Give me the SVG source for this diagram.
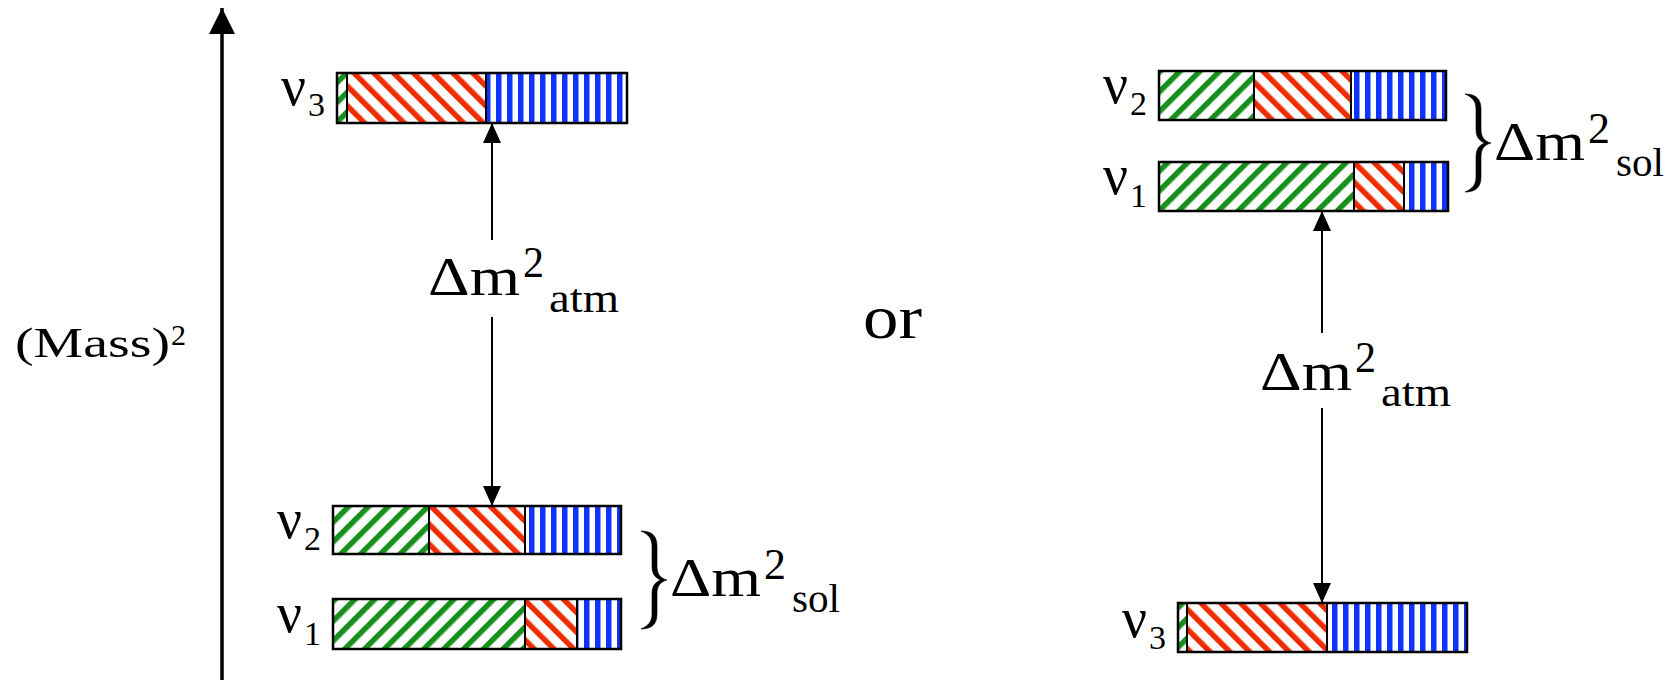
<svg xmlns="http://www.w3.org/2000/svg" width="1676" height="680" viewBox="0 0 1676 680">
<style>
.box{fill:none;stroke:#000;stroke-width:2.5}
.div{stroke:#000;stroke-width:2}
.t{font-family:"Liberation Serif","Times New Roman",serif;fill:#000}
.nu{font-size:56px}
.ns{font-size:34px}
.big{font-size:54px}
.sup{font-size:45px}
.sub{font-size:40px}
.conn{stroke:#000;stroke-width:2;fill:none}
.axis{stroke:#000;stroke-width:3.5;fill:none}
.brace{fill:#000;stroke:#000;stroke-width:0.6}
</style>
<defs>
<pattern id="pg" width="14" height="14" patternUnits="userSpaceOnUse" patternTransform="rotate(45)">
<rect width="14" height="14" fill="#fff"/><rect width="5.5" height="14" fill="#16901a"/>
</pattern>
<pattern id="pr" width="14" height="14" patternUnits="userSpaceOnUse" patternTransform="rotate(-45)">
<rect width="14" height="14" fill="#fff"/><rect width="5.5" height="14" fill="#ee2c00"/>
</pattern>
<pattern id="pb" width="11" height="10" patternUnits="userSpaceOnUse">
<rect width="11" height="10" fill="#fff"/><rect x="1" width="5.5" height="10" fill="#1034ff"/>
</pattern>
<marker id="ah" viewBox="0 0 20 18" refX="20" refY="9" markerWidth="20" markerHeight="18" markerUnits="userSpaceOnUse" orient="auto"><path d="M0,0 L20,9 L0,18 z" fill="#000"/></marker>
<marker id="axh" viewBox="0 0 26 26" refX="26" refY="13" markerWidth="26" markerHeight="26" markerUnits="userSpaceOnUse" orient="auto"><path d="M0,0 L26,13 L0,26 z" fill="#000"/></marker>
<path id="brace" d="M641,531 C652,531 657,536 657,546 L657,566 C657,574 660,578 667,580 C660,582 657,586 657,594 L657,614 C657,624 652,629 641,629 C648,626 652,622 652,614 L652,594 C652,586 655,582 661,580 C655,578 652,574 652,566 L652,546 C652,538 648,534 641,531 Z"/>
</defs>

<g id="connectors">
<line class="axis" x1="222" y1="680" x2="222" y2="8" marker-end="url(#axh)"/>
<line class="conn" x1="492" y1="240" x2="492" y2="123" marker-end="url(#ah)"/>
<line class="conn" x1="492" y1="317" x2="492" y2="506" marker-end="url(#ah)"/>
<line class="conn" x1="1322" y1="333" x2="1322" y2="211" marker-end="url(#ah)"/>
<line class="conn" x1="1322" y1="408" x2="1322" y2="603" marker-end="url(#ah)"/>
</g>

<g id="axis-label">
<text class="t" x="15" y="357" font-size="42" textLength="155" lengthAdjust="spacingAndGlyphs">(Mass)</text>
<text class="t" x="171" y="345" font-size="30" textLength="15" lengthAdjust="spacingAndGlyphs">2</text>
</g>

<g id="left-nu3">
<rect x="337" y="73" width="10" height="50" fill="url(#pg)"/>
<rect x="347" y="73" width="139" height="50" fill="url(#pr)"/>
<rect x="486" y="73" width="141" height="50" fill="url(#pb)"/>
<line class="div" x1="347" y1="73" x2="347" y2="123"/>
<line class="div" x1="486" y1="73" x2="486" y2="123"/>
<rect class="box" x="337" y="73" width="290" height="50"/>
<text class="t nu" x="281" y="105" textLength="25" lengthAdjust="spacingAndGlyphs">ν</text>
<text class="t ns" x="308" y="116">3</text>
</g>

<g id="left-nu2">
<rect x="333" y="506" width="96" height="48" fill="url(#pg)"/>
<rect x="429" y="506" width="96" height="48" fill="url(#pr)"/>
<rect x="525" y="506" width="96" height="48" fill="url(#pb)"/>
<line class="div" x1="429" y1="506" x2="429" y2="554"/>
<line class="div" x1="525" y1="506" x2="525" y2="554"/>
<rect class="box" x="333" y="506" width="288" height="48"/>
<text class="t nu" x="277" y="538" textLength="25" lengthAdjust="spacingAndGlyphs">ν</text>
<text class="t ns" x="304" y="550">2</text>
</g>

<g id="left-nu1">
<rect x="333" y="599" width="192" height="50" fill="url(#pg)"/>
<rect x="525" y="599" width="52" height="50" fill="url(#pr)"/>
<rect x="577" y="599" width="44" height="50" fill="url(#pb)"/>
<line class="div" x1="525" y1="599" x2="525" y2="649"/>
<line class="div" x1="577" y1="599" x2="577" y2="649"/>
<rect class="box" x="333" y="599" width="288" height="50"/>
<text class="t nu" x="277" y="632" textLength="25" lengthAdjust="spacingAndGlyphs">ν</text>
<text class="t ns" x="304" y="645">1</text>
</g>

<g id="left-atm">
<text class="t big" x="428" y="295" textLength="92" lengthAdjust="spacingAndGlyphs">Δm</text>
<text class="t sup" x="523" y="277" textLength="21" lengthAdjust="spacingAndGlyphs">2</text>
<text class="t sub" x="549" y="312" textLength="70" lengthAdjust="spacingAndGlyphs">atm</text>
</g>

<g id="left-sol">
<use href="#brace" class="brace"/>
<text class="t big" x="670" y="596" textLength="91" lengthAdjust="spacingAndGlyphs">Δm</text>
<text class="t sup" x="764" y="579" textLength="22" lengthAdjust="spacingAndGlyphs">2</text>
<text class="t sub" x="792" y="612" textLength="48" lengthAdjust="spacingAndGlyphs">sol</text>
</g>

<g id="or-label">
<text class="t" x="863" y="338" font-size="62" textLength="59" lengthAdjust="spacingAndGlyphs">or</text>
</g>

<g id="right-nu2">
<rect x="1159" y="71" width="95" height="49" fill="url(#pg)"/>
<rect x="1254" y="71" width="97" height="49" fill="url(#pr)"/>
<rect x="1351" y="71" width="95" height="49" fill="url(#pb)"/>
<line class="div" x1="1254" y1="71" x2="1254" y2="120"/>
<line class="div" x1="1351" y1="71" x2="1351" y2="120"/>
<rect class="box" x="1159" y="71" width="287" height="49"/>
<text class="t nu" x="1103" y="103" textLength="25" lengthAdjust="spacingAndGlyphs">ν</text>
<text class="t ns" x="1130" y="115">2</text>
</g>

<g id="right-nu1">
<rect x="1159" y="162" width="195" height="49" fill="url(#pg)"/>
<rect x="1354" y="162" width="50" height="49" fill="url(#pr)"/>
<rect x="1404" y="162" width="44" height="49" fill="url(#pb)"/>
<line class="div" x1="1354" y1="162" x2="1354" y2="211"/>
<line class="div" x1="1404" y1="162" x2="1404" y2="211"/>
<rect class="box" x="1159" y="162" width="289" height="49"/>
<text class="t nu" x="1103" y="194" textLength="25" lengthAdjust="spacingAndGlyphs">ν</text>
<text class="t ns" x="1130" y="207">1</text>
</g>

<g id="right-sol">
<use href="#brace" class="brace" transform="translate(824,-437)"/>
<text class="t big" x="1494" y="160" textLength="91" lengthAdjust="spacingAndGlyphs">Δm</text>
<text class="t sup" x="1588" y="143" textLength="22" lengthAdjust="spacingAndGlyphs">2</text>
<text class="t sub" x="1616" y="176" textLength="48" lengthAdjust="spacingAndGlyphs">sol</text>
</g>

<g id="right-atm">
<text class="t big" x="1260" y="390" textLength="92" lengthAdjust="spacingAndGlyphs">Δm</text>
<text class="t sup" x="1355" y="372" textLength="21" lengthAdjust="spacingAndGlyphs">2</text>
<text class="t sub" x="1381" y="406" textLength="70" lengthAdjust="spacingAndGlyphs">atm</text>
</g>

<g id="right-nu3">
<rect x="1178" y="603" width="9" height="49" fill="url(#pg)"/>
<rect x="1187" y="603" width="140" height="49" fill="url(#pr)"/>
<rect x="1327" y="603" width="140" height="49" fill="url(#pb)"/>
<line class="div" x1="1187" y1="603" x2="1187" y2="652"/>
<line class="div" x1="1327" y1="603" x2="1327" y2="652"/>
<rect class="box" x="1178" y="603" width="289" height="49"/>
<text class="t nu" x="1122" y="637" textLength="25" lengthAdjust="spacingAndGlyphs">ν</text>
<text class="t ns" x="1149" y="649">3</text>
</g>
</svg>
